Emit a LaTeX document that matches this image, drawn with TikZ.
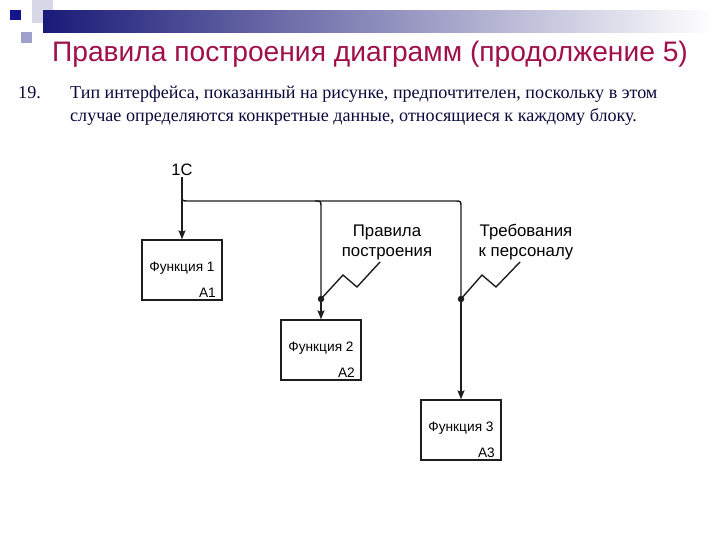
\documentclass[tikz,border=0pt]{standalone}
\usepackage{fontspec}
\setmainfont{Liberation Serif}
\setsansfont{Liberation Sans}
\usetikzlibrary{arrows.meta}
\definecolor{titlecol}{RGB}{160,16,74}
\definecolor{bodycol}{RGB}{10,10,60}
\definecolor{barnavy}{RGB}{26,26,120}
\definecolor{sqdark}{RGB}{20,20,140}
\definecolor{sqlav}{RGB}{160,160,205}
\definecolor{sqpale}{RGB}{215,215,232}
\definecolor{linecol}{RGB}{30,30,30}
\tikzset{
  fbox/.style={draw=linecol, line width=1.2pt, minimum width=80pt, minimum height=60pt, inner sep=0pt},
  boxtext/.style={font=\sffamily\fontsize{13.7}{16}\selectfont, text=black},
  lbl/.style={font=\sffamily\fontsize{16.8}{20}\selectfont, align=center, text=black},
  conn/.style={draw=linecol, line width=1.4pt},
  arr/.style={conn, -{Stealth[length=9pt,width=7pt,inset=1.5pt]}},
  jdot/.style={circle, fill=linecol, inner sep=0pt, minimum size=6.5pt},
}
\begin{document}
\begin{tikzpicture}[x=1pt,y=-1pt]
\useasboundingbox (0,0) rectangle (720,540);
\fill[white] (0,0) rectangle (720,540);
% header decoration
\fill[sqpale] (32,0) rectangle (53,23);
\shade[left color=barnavy, right color=white] (43,11) rectangle (712,33);
\fill[sqlav] (21,32) rectangle (32,43);
\fill[sqdark] (10,10) rectangle (21,20);
% title
\node[anchor=base, text=titlecol, font=\sffamily\fontsize{28.2}{32}\selectfont, inner sep=0pt] (title) at (370,62) {Правила построения диаграмм (продолжение 5)};
% body paragraph
\node[anchor=base west, text=bodycol, font=\fontsize{18.1}{21}\selectfont, inner sep=0pt] (num) at (18,99) {19.};
\node[anchor=base west, text=bodycol, font=\fontsize{18.1}{21}\selectfont, inner sep=0pt] (line1) at (70,99) {Тип интерфейса, показанный на рисунке, предпочтителен, поскольку в этом};
\node[anchor=base west, text=bodycol, font=\fontsize{18.1}{21}\selectfont, inner sep=0pt] (line2) at (70,122) {случае определяются конкретные данные, относящиеся к каждому блоку.};
% boxes
\node[fbox] (f1) at (182,270) {};
\node[fbox] (f2) at (321,350) {};
\node[fbox] (f3) at (461,430) {};
\node[boxtext, anchor=base] (t1) at (182,271) {Функция 1};
\node[boxtext, anchor=base east, inner sep=0pt] (a1) at (216,297) {А1};
\node[boxtext, anchor=base] (t2) at (321,351) {Функция 2};
\node[boxtext, anchor=base east, inner sep=0pt] (a2) at (355,377) {А2};
\node[boxtext, anchor=base] (t3) at (461,431) {Функция 3};
\node[boxtext, anchor=base east, inner sep=0pt] (a3) at (495,457) {А3};
% labels
\node[font=\sffamily\fontsize{16.5}{18}\selectfont, inner sep=1pt] (c1) at (182,170) {1C};
\node[lbl] (l1) at (387,242) {Правила\\построения};
\node[lbl] (l2) at (526,242) {Требования\\к персоналу};
% junction points
\coordinate (j0) at (182,201);
\coordinate (j1) at (321,201);
\coordinate (j2) at (461,201);
\node[jdot] (d1) at (321,299) {};
\node[jdot] (d2) at (461,299) {};
\coordinate (s1) at (380,262);
\coordinate (s2) at (520,262);
% connectors
\draw[arr] (c1.south) -- (f1.north);
\draw[conn] ([yshift=6pt]j0) .. controls (j0) .. ([xshift=6pt]j0) -- ([xshift=-6pt]j2) .. controls (j2) .. ([yshift=-6pt]j2) -- (d2.center);
\draw[conn] ([xshift=-6pt]j1) .. controls (j1) .. ([yshift=-6pt]j1) -- (d1.center);
\draw[arr] (d1.center) -- (f2.north);
\draw[arr] (d2.center) -- (f3.north);
\draw[conn, line join=miter] (d1.center) -- (343,275) -- (357,287) -- (s1);
\draw[conn, line join=miter] (d2.center) -- (482,275) -- (496,287) -- (s2);
\end{tikzpicture}
\end{document}
